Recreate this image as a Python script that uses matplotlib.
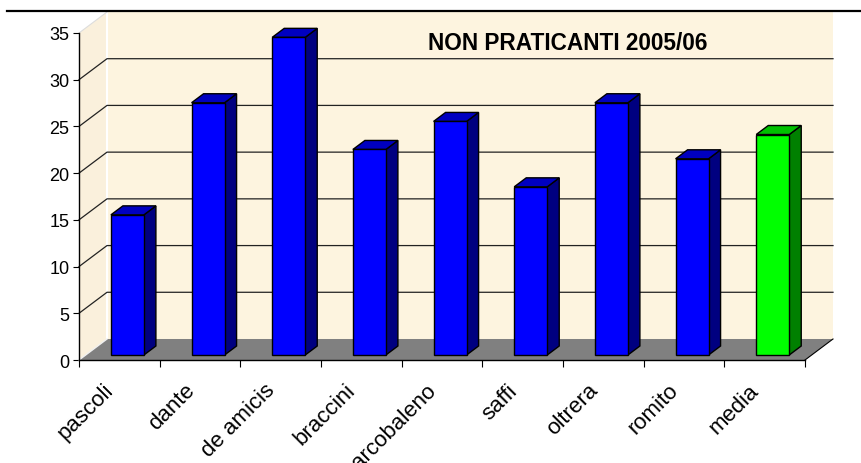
import matplotlib
matplotlib.use('Agg')
import matplotlib.pyplot as plt

plt.rcParams['font.family'] = ['Liberation Sans', 'DejaVu Sans']

# dati
scuole = ['pascoli', 'dante', 'de amicis', 'braccini', 'arcobaleno', 'saffi', 'oltrera', 'romito', 'media']
valori = [15, 27, 34, 22, 25, 18, 27, 21, 23.6]
tick_y = [0, 5, 10, 15, 20, 25, 30, 35]
griglia = [5, 10, 15, 20, 25, 30]
titolo = 'NON PRATICANTI 2005/06'

W, H = 861, 464
fig = plt.figure(figsize=(W / 100, H / 100), dpi=100)
ax = fig.add_axes([79 / W, 1 - 361 / H, (805 - 79) / W, (361 - 34) / H])
ax.set_xlim(0, len(scuole))
ax.set_ylim(0, 35)
ax.patch.set_visible(False)

# profondita' del grafico in unita' dei dati
DX = 28 / 80.67
DY = 21 / 9.34
n = len(scuole)

# pareti e pavimento
ax.fill([DX, n + DX, n + DX, DX], [DY, DY, 35 + DY, 35 + DY], color='#FDF4DF', lw=0, clip_on=False, zorder=1)
ax.fill([0, DX, DX, 0], [0, DY, 35 + DY, 35], color='#FAF0DC', lw=0, clip_on=False, zorder=1)
ax.plot([DX, DX], [DY, 35 + DY], color='white', lw=1.5, clip_on=False, zorder=1.5)
ax.plot([0, DX], [35, 35 + DY], color='#DDDDDD', lw=0.8, clip_on=False, zorder=1.5)
ax.fill([0, n, n + DX, DX], [0, 0, DY, DY], color='#808080', lw=0, clip_on=False, zorder=2)
ax.plot([0, DX], [0, DY], color='#F0F0F0', lw=1.0, clip_on=False, zorder=2.5)
ax.plot([n, n + DX], [0, DY], color='black', lw=0.8, clip_on=False, zorder=2.5)

for g in griglia:
    ax.plot([0, DX, n + DX], [g, g + DY, g + DY], color='#222222', lw=0.9, clip_on=False, zorder=2)

# barre
larg = 33 / 80.67
sx = 0.1
sy = 0.535
bx = 12 / 80.67
by = 9 / 9.34
for i in range(n):
    v = valori[i]
    if scuole[i] == 'media':
        c1, c2, c3 = '#00FF00', '#008000', '#00C000'
    else:
        c1, c2, c3 = '#0000FF', '#000080', '#0000C0'
    x0 = i + 0.5 + sx - larg / 2
    x1 = x0 + larg
    ax.bar(x0, v, width=larg, bottom=sy, align='edge', color=c1, edgecolor='black', lw=1.0, zorder=5, clip_on=False)
    ax.fill([x1, x1 + bx, x1 + bx, x1], [sy, sy + by, sy + v + by, sy + v], facecolor=c2, edgecolor='black', lw=1.0, zorder=4, clip_on=False)
    ax.fill([x0, x1, x1 + bx, x0 + bx], [sy + v, sy + v, sy + v + by, sy + v + by], facecolor=c3, edgecolor='black', lw=1.0, zorder=4, clip_on=False)

# assi
for s in ['top', 'right']:
    ax.spines[s].set_visible(False)
ax.spines['left'].set_linewidth(1.0)
ax.spines['bottom'].set_linewidth(1.0)
ax.set_yticks(tick_y)
ax.tick_params(axis='y', length=4, width=0.8, labelsize=13, pad=3)
ax.set_xticks(range(n + 1))
ax.set_xticklabels([])
ax.tick_params(axis='x', which='major', length=5, width=0.8)
ax.set_xticks([i + 0.3 for i in range(n)], minor=True)
ax.set_xticklabels(scuole, minor=True, rotation=45, ha='right', rotation_mode='anchor', fontsize=16)
ax.tick_params(axis='x', which='minor', length=0, pad=14)

ax.text(6.06, 34.0, titolo, fontsize=16.3, fontweight='bold', ha='center', va='center', zorder=6)

# riga nera in alto
fig.add_artist(plt.Line2D([7 / W, 1], [1 - 11.5 / H, 1 - 11.5 / H], color='black', lw=1.6))

fig.savefig('out.png', dpi=100)
